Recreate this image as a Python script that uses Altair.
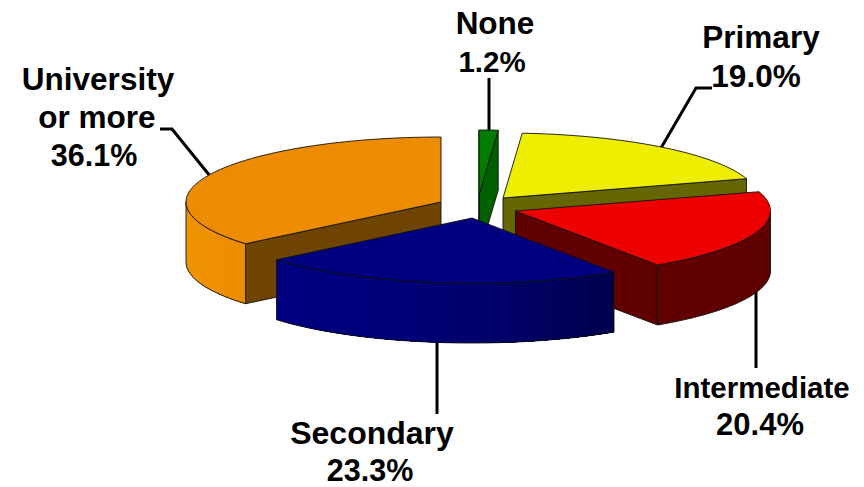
import math
import altair as alt
import pandas as pd

# Values, counter-clockwise from 12 o'clock
names = ["University or more", "Secondary", "Intermediate", "Primary", "None"]
shares = [36.1, 23.3, 20.4, 19.0, 1.2]

label_lines = [["University", "or more", "36.1%"], ["Secondary", "23.3%"],
               ["Intermediate", "20.4%"], ["Primary", "19.0%"], ["None", "1.2%"]]

top_colors = ["#ED8C00", "#000080", "#EE0000", "#EEEE00", "#007C00"]
cut_colors = ["#6E4400", "#000060", "#600000", "#666600", "#006000"]
wall_left = ["#F09400", "#000080", "#600000", "#666600", "#006000"]
wall_right = ["#ED8C00", "#00004C", "#600000", "#666600", "#006000"]

# Layout of the exploded 3-D pie
centers = [(441, 202), (472, 218), (515.5, 211), (503, 198), (479, 195)]
RX, RY, DEPTH = 255, 65, 60
draw_order = [0, 4, 3, 2, 1]

label_pos = [[(98, 90), (97, 128), (94, 166)], [(372, 444), (370, 481)],
             [(762, 398), (760, 435)], [(761, 48), (756, 87)], [(495, 34), (492, 72)]]
label_size = [[31.5, 31.5, 30.5], [32, 30.5], [29.5, 31], [31.5, 31.5], [31.5, 29.5]]
leaders = [[(160, 129), (172, 129), (210, 176)], [(437, 343), (437, 414)],
           [(756, 292), (756, 368)], [(712, 88), (696, 88), (661, 148)], [(489, 78), (489, 131)]]


def hex_mix(a, b, t):
    ca = [int(a[i:i + 2], 16) for i in (1, 3, 5)]
    cb = [int(b[i:i + 2], 16) for i in (1, 3, 5)]
    return "#%02X%02X%02X" % tuple(round(p + (q - p) * t) for p, q in zip(ca, cb))


rows = []
counter = [0]


def add(points, fill, stroke, sw):
    counter[0] += 1
    for s, (x, y) in enumerate(points):
        rows.append(dict(piece=counter[0], seq=s, x=x, y=y, fill=fill, stroke=stroke, sw=sw))


def pt(c, deg, drop=0):
    r = math.radians(deg)
    return (c[0] - RX * math.sin(r), c[1] - RY * math.cos(r) + drop)


def arc(c, a, b, drop=0):
    n = max(2, int(abs(b - a) / 2) + 1)
    return [pt(c, a + (b - a) * k / n, drop) for k in range(n + 1)]


EDGE = "#111111"
angles = []
acc = 0.0
for v in shares:
    angles.append((acc * 3.6, (acc + v) * 3.6))
    acc += v

for i in draw_order:
    a, b = angles[i]
    c = centers[i]
    low = (c[0], c[1] + DEPTH)
    # cut faces that look towards the viewer
    for edge_deg, normal in ((a, a - 90), (b, b + 90)):
        if math.cos(math.radians(normal)) < 0:
            p = pt(c, edge_deg)
            q = pt(c, edge_deg, DEPTH)
            add([c, p, q, low, c], cut_colors[i], EDGE, 0.9)
    # rounded wall, only its front half shows; each strip runs on to the end
    # of the wall and the next one paints over it, so no seams show
    wa, wb = max(a, 90), min(b, 270)
    if wb > wa:
        steps = 1 if wall_left[i] == wall_right[i] else max(2, int((wb - wa) / 2))
        for k in range(steps):
            t0 = wa + (wb - wa) * k / steps
            t = (k + 0.5) / steps
            col = hex_mix(wall_left[i], wall_right[i], t ** 2)
            strip = arc(c, t0, wb) + arc(c, wb, t0, DEPTH)
            add(strip + strip[:1], col, "transparent", 0)
        outline = arc(c, wa, wb) + arc(c, wb, wa, DEPTH)
        add(outline + outline[:1], "transparent", EDGE, 0.9)
    # top face
    top = [c] + arc(c, a, b) + [c]
    add(top, top_colors[i], EDGE, 0.9)

pie = pd.DataFrame(rows)

lead_rows = []
for i, path in enumerate(leaders):
    for s, (x, y) in enumerate(path):
        lead_rows.append(dict(name=names[i], seq=s, x=x, y=y))
lead = pd.DataFrame(lead_rows)

text_rows = []
for lines, places, sizes in zip(label_lines, label_pos, label_size):
    for t, (x, y), fs in zip(lines, places, sizes):
        text_rows.append(dict(text=t, x=x, y=y, fs=fs))
labels = pd.DataFrame(text_rows)

X = alt.X("x:Q", scale=alt.Scale(domain=[8, 856], nice=False, zero=False), axis=None)
Y = alt.Y("y:Q", scale=alt.Scale(domain=[487, 8], nice=False, zero=False), axis=None)

leader_layer = alt.Chart(lead).mark_line(color="black", strokeWidth=3).encode(
    x=X, y=Y, detail="name:N", order="seq:Q")

pie_layer = alt.Chart(pie).mark_line(strokeJoin="round").encode(
    x=X, y=Y,
    detail="piece:N",
    order="seq:Q",
    fill=alt.Fill("fill:N", scale=None),
    stroke=alt.Stroke("stroke:N", scale=None),
    strokeWidth=alt.StrokeWidth("sw:Q", scale=None),
)

text_layer = alt.Chart(labels).mark_text(
    font="Liberation Sans", fontWeight="bold", color="black",
    align="center", baseline="alphabetic").encode(
    x=X, y=Y, text="text:N", size=alt.Size("fs:Q", scale=None))

chart = (leader_layer + pie_layer + text_layer).properties(
    width=848, height=479, padding=0, background="white",
    autosize=alt.AutoSizeParams(type="none"),
).configure_view(stroke=None)

chart.save("out.html", embed_options={"renderer": "svg", "actions": False})
